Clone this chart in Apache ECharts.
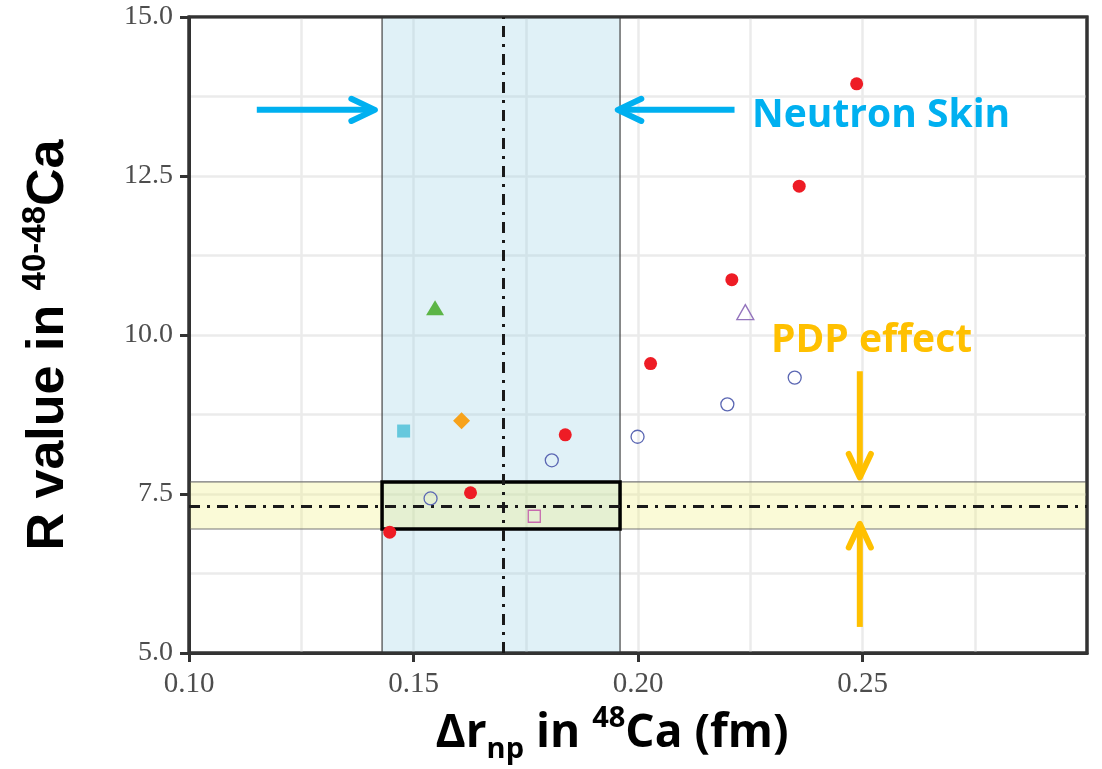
<!DOCTYPE html>
<html>
<head>
<meta charset="utf-8">
<title>R value in 40-48Ca vs neutron skin</title>
<script src="https://cdn.jsdelivr.net/npm/echarts@6/dist/echarts.min.js"></script>
<style>
  html, body { margin: 0; padding: 0; background: #fff; }
  #chart { width: 1102px; height: 769px; }
</style>
</head>
<body>
<div id="chart"></div>
<script>
// axis tick labels
const xTicks = [0.10, 0.15, 0.20, 0.25]
const yTicks = [5.0, 7.5, 10.0, 12.5, 15.0]

// model points: [Δr_np (fm), R]
const redDots = [[0.1447, 6.90], [0.1627, 7.52], [0.1838, 8.43], [0.2028, 9.55], [0.2209, 10.87], [0.2359, 12.34], [0.2487, 13.95]]
const openCircles = [[0.1538, 7.43], [0.1808, 8.03], [0.1999, 8.40], [0.2199, 8.91], [0.2349, 9.33]]
const openTriangles = [[0.2239, 10.36]]
const greenTriangles = [[0.1548, 10.43]]
const cyanSquares = [[0.1478, 8.49]]
const orangeDiamonds = [[0.1607, 8.65]]
const openSquares = [[0.1769, 7.15]]

// neutron skin band (x) and PDP band (y)
const skinRange = [0.143, 0.196]
const skinCenter = 0.170
const pdpRange = [6.95, 7.69]
const pdpCenter = 7.31

const chart = echarts.init(document.getElementById('chart'))

const dashDot = [11, 7, 3, 7]

function scatter (data, symbol, size, style) {
  return {
    type: 'scatter',
    data: data,
    symbol: symbol,
    symbolSize: size,
    z: 5,
    itemStyle: Object.assign({ opacity: 1 }, style)
  }
}

function setOptions () {
  chart.setOption({
    animation: false,
    grid: {
      left: 189,
      top: 17,
      right: 15,
      bottom: 115,
      show: true,
      borderColor: '#333',
      borderWidth: 3,
      backgroundColor: 'transparent'
    },
    xAxis: {
      type: 'value',
      min: 0.10,
      max: 0.30,
      interval: 0.05,
      name: '{b|Δr}{sub|np}{b| in }{sup|48}{b|Ca (fm)}',
      nameLocation: 'middle',
      nameGap: 51,
      nameTextStyle: {
        padding: [0, 52, 0, 0],
        rich: {
          b: { fontFamily: 'Open Sans', fontWeight: 'bold', fontSize: 46, color: '#000', lineHeight: 60 },
          sub: { fontFamily: 'Open Sans', fontWeight: 'bold', fontSize: 29, color: '#000', lineHeight: 26, verticalAlign: 'bottom' },
          sup: { fontFamily: 'Open Sans', fontWeight: 'bold', fontSize: 29, color: '#000', lineHeight: 40, verticalAlign: 'top' }
        }
      },
      axisLine: { show: true, lineStyle: { color: '#333', width: 3 } },
      axisTick: { show: true, length: 9, customValues: xTicks, lineStyle: { color: '#333', width: 3 } },
      axisLabel: {
        customValues: xTicks,
        margin: 17,
        fontFamily: 'Liberation Serif',
        fontSize: 29,
        color: '#4d4d4d',
        formatter: v => v.toFixed(2)
      },
      splitLine: { show: true, lineStyle: { color: '#ebebeb', width: 2.5 } },
      minorTick: { show: false, splitNumber: 2 },
      minorSplitLine: { show: true, lineStyle: { color: '#ebebeb', width: 2.5 } }
    },
    yAxis: {
      type: 'value',
      min: 5,
      max: 15,
      interval: 2.5,
      name: '{b|R value in }{sup|40-48}{b|Ca}',
      nameLocation: 'middle',
      nameRotate: 90,
      nameGap: 110,
      nameTextStyle: {
        padding: [0, 20, 0, 0],
        rich: {
          b: { fontFamily: 'Liberation Sans', fontWeight: 'bold', fontSize: 52, color: '#000', lineHeight: 60 },
          sup: { fontFamily: 'Liberation Sans', fontWeight: 'bold', fontSize: 33, color: '#000', lineHeight: 40, verticalAlign: 'top' }
        }
      },
      axisLine: { show: true, lineStyle: { color: '#333', width: 3 } },
      axisTick: { show: true, length: 9, customValues: yTicks, lineStyle: { color: '#333', width: 3 } },
      axisLabel: {
        customValues: yTicks,
        margin: 16,
        fontFamily: 'Liberation Serif',
        fontSize: 28,
        color: '#4d4d4d',
        formatter: v => v.toFixed(1)
      },
      splitLine: { show: true, lineStyle: { color: '#ebebeb', width: 2.5 } },
      minorTick: { show: false, splitNumber: 2 },
      minorSplitLine: { show: true, lineStyle: { color: '#ebebeb', width: 2.5 } }
    },
    series: [
      {
        // bands, box, panel border and reference lines
        type: 'scatter',
        data: [],
        z: 2,
        markArea: {
          silent: true,
          label: { show: false },
          data: [
            [{ xAxis: skinRange[0], yAxis: 5, itemStyle: { color: 'rgba(160,214,230,0.33)', borderColor: '#444', borderWidth: 1.2 } },
              { xAxis: skinRange[1], yAxis: 15 }],
            [{ xAxis: 0.10, yAxis: pdpRange[0], itemStyle: { color: 'rgba(238,238,122,0.3)', borderColor: '#777', borderWidth: 1.2 } },
              { xAxis: 0.30, yAxis: pdpRange[1] }],
            [{ xAxis: skinRange[0], yAxis: pdpRange[0], itemStyle: { color: 'rgba(0,0,0,0)', borderColor: '#000', borderWidth: 3.5 } },
              { xAxis: skinRange[1], yAxis: pdpRange[1] }],
            [{ xAxis: 0.10, yAxis: 5, itemStyle: { color: 'rgba(0,0,0,0)', borderColor: '#333', borderWidth: 3 } },
              { xAxis: 0.30, yAxis: 15 }]
          ]
        },
        markLine: {
          silent: true,
          symbol: ['none', 'none'],
          label: { show: false },
          lineStyle: { color: '#1a1a1a', width: 3, type: dashDot },
          data: [
            { xAxis: skinCenter },
            { yAxis: pdpCenter }
          ]
        }
      },
      scatter(redDots, 'circle', 13, { color: '#ee1c25' }),
      scatter(openCircles, 'circle', 13, { color: 'rgba(0,0,0,0)', borderColor: '#5b67b3', borderWidth: 1.3 }),
      scatter(openTriangles, 'triangle', [17, 15], { color: 'rgba(0,0,0,0)', borderColor: '#9474bd', borderWidth: 1.3 }),
      scatter(greenTriangles, 'triangle', [18, 15], { color: '#5cb547' }),
      scatter(cyanSquares, 'rect', 13, { color: '#66c8dd' }),
      scatter(orangeDiamonds, 'diamond', [17, 17], { color: '#f7a21b' }),
      scatter(openSquares, 'rect', 12, { color: 'rgba(0,0,0,0)', borderColor: '#c76aae', borderWidth: 1.3 })
    ]
  })
}

// annotation arrows, drawn in data coordinates
function arrow (from, to, color) {
  const p0 = chart.convertToPixel({ gridIndex: 0 }, from)
  const p1 = chart.convertToPixel({ gridIndex: 0 }, to)
  const ang = Math.atan2(p1[1] - p0[1], p1[0] - p0[0])
  const len = 26
  const spread = 0.44
  const a = [p1[0] - len * Math.cos(ang - spread), p1[1] - len * Math.sin(ang - spread)]
  const b = [p1[0] - len * Math.cos(ang + spread), p1[1] - len * Math.sin(ang + spread)]
  const style = { stroke: color, lineWidth: 6, fill: null, lineCap: 'round', lineJoin: 'round' }
  return [
    { type: 'polyline', z: 10, shape: { points: [p0, [p1[0] - 2 * Math.cos(ang), p1[1] - 2 * Math.sin(ang)]] }, style: Object.assign({}, style, { lineCap: 'butt' }) },
    { type: 'polyline', z: 10, shape: { points: [a, p1, b] }, style: style }
  ]
}

function label (text, at, color) {
  const p = chart.convertToPixel({ gridIndex: 0 }, at)
  return {
    type: 'text',
    z: 10,
    x: p[0],
    y: p[1],
    style: {
      text: text,
      fill: color,
      font: 'bold 39px "Open Sans"',
      verticalAlign: 'middle',
      align: 'left'
    }
  }
}

function drawNotes () {
  const blue = '#00b0f0'
  const orange = '#ffc000'
  chart.setOption({
    graphic: [].concat(
      arrow([0.1151, 13.54], [0.1414, 13.54], blue),
      arrow([0.2215, 13.54], [0.1955, 13.54], blue),
      arrow([0.2494, 9.43], [0.2494, 7.76], orange),
      arrow([0.2494, 5.41], [0.2494, 7.03], orange),
      [label('Neutron Skin', [0.2254, 13.45], blue), label('PDP effect', [0.2296, 9.90], orange)]
    )
  })
}

setOptions()
drawNotes()
</script>
</body>
</html>
